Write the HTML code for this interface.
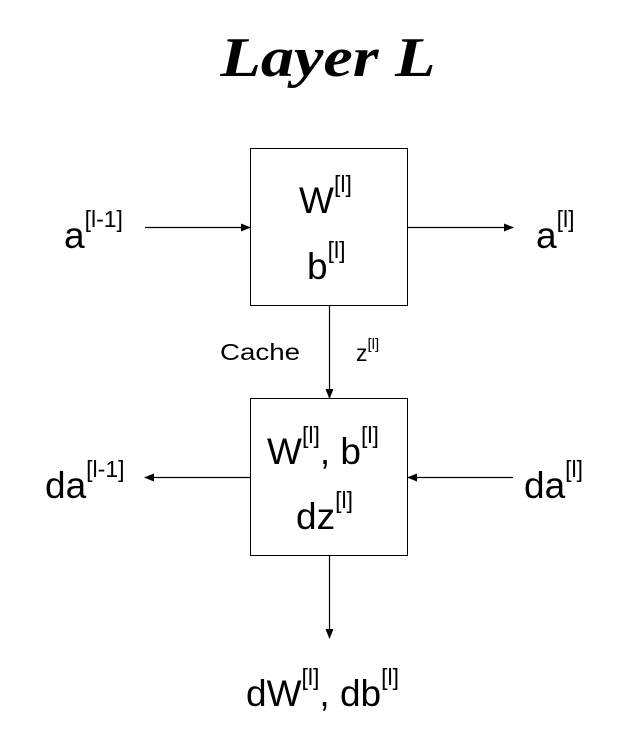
<!DOCTYPE html>
<html><head><meta charset="utf-8"><style>
body{margin:0;background:#fff;width:637px;height:739px;overflow:hidden}
svg text{font-family:"Liberation Sans",sans-serif;fill:#000}
</style></head><body>
<svg width="637" height="739" viewBox="0 0 637 739">
<defs><marker id="ah" markerWidth="10" markerHeight="8" refX="9" refY="4" orient="auto" markerUnits="userSpaceOnUse"><path d="M0,0 L10,4 L0,8 Z" fill="#000"/></marker></defs>
<text x="328" y="76" text-anchor="middle" font-style="italic" font-weight="bold" font-size="56" textLength="215" lengthAdjust="spacingAndGlyphs" style="font-family:'Liberation Serif',serif">Layer L</text>
<rect x="250.5" y="148.5" width="157" height="157" fill="none" stroke="#000"/>
<rect x="250.5" y="398.5" width="157" height="157" fill="none" stroke="#000"/>
<g stroke="#000" stroke-width="1.2" fill="none">
<line x1="145" y1="227.5" x2="250" y2="227.5" marker-end="url(#ah)"/>
<line x1="407" y1="227.5" x2="513" y2="227.5" marker-end="url(#ah)"/>
<line x1="329.5" y1="305" x2="329.5" y2="398" marker-end="url(#ah)"/>
<line x1="250" y1="477.5" x2="145" y2="477.5" marker-end="url(#ah)"/>
<line x1="513" y1="477.5" x2="408" y2="477.5" marker-end="url(#ah)"/>
<line x1="329.5" y1="555" x2="329.5" y2="638" marker-end="url(#ah)"/>
</g>
<g font-size="37">
<text x="64" y="248">a<tspan font-size="23" dy="-21">[l-1]</tspan></text>
<text x="536" y="248">a<tspan font-size="23" dy="-21">[l]</tspan></text>
<text x="299" y="213">W<tspan font-size="23" dy="-21">[l]</tspan></text>
<text x="307" y="279">b<tspan font-size="23" dy="-21">[l]</tspan></text>
<text x="267" y="464">W<tspan font-size="23" dy="-21">[l]</tspan><tspan dy="21">, b</tspan><tspan font-size="23" dy="-21">[l]</tspan></text>
<text x="296" y="529">dz<tspan font-size="23" dy="-21">[l]</tspan></text>
<text x="45" y="498">da<tspan font-size="23" dy="-21">[l-1]</tspan></text>
<text x="524" y="498">da<tspan font-size="23" dy="-21">[l]</tspan></text>
<text x="246" y="706">dW<tspan font-size="23" dy="-21">[l]</tspan><tspan dy="21">, db</tspan><tspan font-size="23" dy="-21">[l]</tspan></text>
</g>
<text x="220" y="360" font-size="23" textLength="80" lengthAdjust="spacingAndGlyphs">Cache</text>
<text x="356" y="361" font-size="23">z<tspan font-size="15" dy="-12">[l]</tspan></text>
</svg>
</body></html>
